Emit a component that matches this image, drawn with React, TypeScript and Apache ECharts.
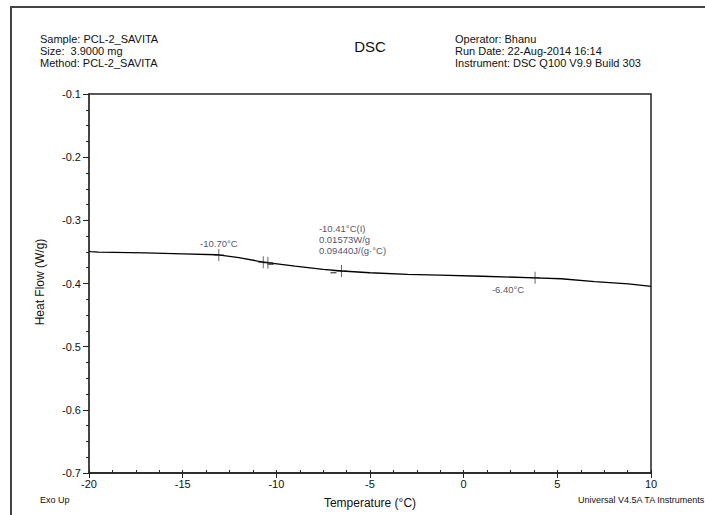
import React, { useEffect, useRef } from "react";
import * as echarts from "echarts";

const temps = [-20, -19.9, -19.5, -17, -15, -13.2, -13, -12, -11, -10.5, -9, -7.5, -6.5, -5, -3, -1.3, 1, 3.8, 5.2, 7, 8.8, 10];
const heatFlow = [-0.349, -0.3495, -0.3503, -0.3515, -0.353, -0.3545, -0.355, -0.359, -0.3645, -0.367, -0.3725, -0.3775, -0.3802, -0.383, -0.3855, -0.3868, -0.3885, -0.391, -0.3925, -0.397, -0.4006, -0.4045];

const crossT = [-13.07, -10.7, -10.45, -6.52, 3.81];
const crossV = [-0.3548, -0.3664, -0.3672, -0.3803, -0.391];
const crossLabels = ["-10.70°C", "", "-10.41°C(I)\n0.01573W/g\n0.09440J/(g·°C)", "", "-6.40°C"];

const dashT = [-10.3, -6.95];
const dashV = [-0.3695, -0.3828];

const yTicks = { min: -0.7, max: -0.1, interval: 0.1 };
const xTicks = { min: -20, max: 10, interval: 5 };

const headerLeft = ["Sample: PCL-2_SAVITA", "Size:  3.9000 mg", "Method: PCL-2_SAVITA"];
const headerRight = ["Operator: Bhanu", "Run Date: 22-Aug-2014 16:14", "Instrument: DSC Q100 V9.9 Build 303"];

const FONT = "Liberation Sans, Arial, sans-serif";

export default function App() {
  const ref = useRef<HTMLDivElement>(null);
  useEffect(() => {
    if (!ref.current) return;
    const chart = echarts.init(ref.current, null, { renderer: "svg" });
    const labelOffsets: Record<number, { offset: number[]; align: string }> = {
      0: { offset: [0, -11], align: "center" },
      2: { offset: [51, -23], align: "left" },
      4: { offset: [-27, 12], align: "center" },
    };
    const crossData = crossT.map((t, i) => {
      const lo = labelOffsets[i];
      return {
        value: [t, crossV[i]],
        label: lo
          ? {
              show: true,
              formatter: crossLabels[i],
              position: "inside",
              offset: lo.offset,
              align: lo.align,
              verticalAlign: "middle",
              fontSize: 9.5,
              lineHeight: 11,
              fontFamily: FONT,
              color: "#1c1c3c",
            }
          : { show: false },
      };
    });
    const textStyle = (s: string, size = 10) => ({ text: s, fontSize: size, fontFamily: FONT, fill: "#111" });
    chart.setOption({
      animation: false,
      backgroundColor: "#fff",
      grid: { left: 89, right: 54, top: 94, bottom: 42, show: true, borderColor: "#222", borderWidth: 1.5 },
      xAxis: [
        {
          type: "value",
          min: xTicks.min,
          max: xTicks.max,
          interval: xTicks.interval,
          name: "Temperature (°C)",
          nameLocation: "middle",
          nameGap: 24,
          nameTextStyle: { fontSize: 12, fontFamily: FONT, color: "#111" },
          axisLine: { show: true, onZero: false, lineStyle: { color: "#222", width: 1.5 } },
          axisTick: { show: true, length: 5, lineStyle: { color: "#222" } },
          axisLabel: { fontSize: 11, fontFamily: FONT, color: "#111", margin: 5 },
          splitLine: { show: false },
        },
        {
          type: "value",
          min: xTicks.min,
          max: xTicks.max,
          interval: 1.25,
          position: "bottom",
          axisLine: { show: false, onZero: false },
          axisTick: { show: true, inside: true, length: 3, lineStyle: { color: "#222" } },
          axisLabel: { show: false },
          splitLine: { show: false },
        },
      ],
      yAxis: {
        type: "value",
        min: yTicks.min,
        max: yTicks.max,
        interval: yTicks.interval,
        axisLine: { show: true, onZero: false, lineStyle: { color: "#444", width: 2 } },
        axisTick: { show: true, length: 6, lineStyle: { color: "#222" } },
        minorTick: { show: true, splitNumber: 4, length: 3, lineStyle: { color: "#222" } },
        axisLabel: { fontSize: 11, fontFamily: FONT, color: "#111", margin: 8, formatter: (v: number) => v.toFixed(1) },
        splitLine: { show: false },
      },
      series: [
        {
          type: "line",
          data: temps.map((t, i) => [t, heatFlow[i]]),
          showSymbol: false,
          lineStyle: { color: "#000", width: 1.3 },
          z: 2,
        },
        {
          type: "scatter",
          data: crossData,
          symbol: "path://M-0.08,-1 L0.08,-1 L0.08,-0.08 L1,-0.08 L1,0.08 L0.08,0.08 L0.08,1 L-0.08,1 L-0.08,0.08 L-1,0.08 L-1,-0.08 L-0.08,-0.08 Z",
          symbolSize: [10, 12],
          symbolKeepAspect: false,
          itemStyle: { color: "#111" },
          z: 3,
        },
        {
          type: "scatter",
          data: dashT.map((t, i) => [t, dashV[i]]),
          symbol: "rect",
          symbolSize: [6, 1.5],
          itemStyle: { color: "#333" },
          z: 3,
        },
      ],
      graphic: [
        { type: "rect", shape: { x: 11, y: 7, width: 720, height: 540 }, style: { fill: "none", stroke: "#444", lineWidth: 2 } },
        ...headerLeft.map((s, i) => ({ type: "text", x: 40, y: 33 + i * 12, style: textStyle(s, 11) })),
        ...headerRight.map((s, i) => ({ type: "text", x: 455, y: 33 + i * 12, style: textStyle(s, 11) })),
        { type: "text", x: 370, y: 46, style: { ...textStyle("DSC", 15), align: "center", verticalAlign: "middle" } },
        {
          type: "text",
          x: 40,
          y: 282,
          rotation: Math.PI / 2,
          style: { ...textStyle("Heat Flow (W/g)", 12), align: "center", verticalAlign: "middle" },
        },
        { type: "text", x: 40, y: 495, style: textStyle("Exo Up", 9) },
        { type: "text", x: 578, y: 495, style: textStyle("Universal V4.5A TA Instruments", 9) },
      ],
    });
    return () => chart.dispose();
  }, []);
  return <div ref={ref} style={{ position: "fixed", left: 0, top: 0, width: 705, height: 515 }} />;
}
